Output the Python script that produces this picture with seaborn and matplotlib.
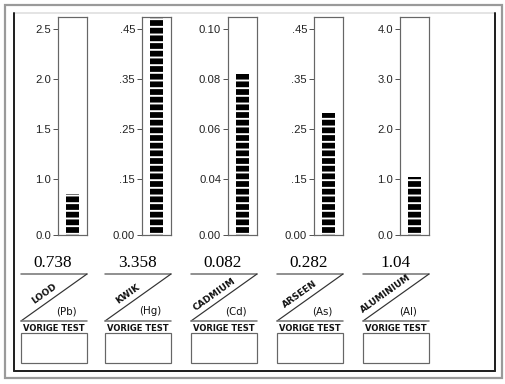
import numpy as np
import matplotlib
matplotlib.use("Agg")
import matplotlib.pyplot as plt
from matplotlib.lines import Line2D
from matplotlib.patches import Rectangle
import seaborn as sns

# Data

names = ["LOOD", "KWIK", "CADMIUM", "ARSEEN", "ALUMINIUM"]
symbols = ["(Pb)", "(Hg)", "(Cd)", "(As)", "(Al)"]
values = [0.738, 3.358, 0.082, 0.282, 1.04]
value_labels = ["0.738", "3.358", "0.082", "0.282", "1.04"]

tick_values = [
    [0.0, 1.0, 1.5, 2.0, 2.5],
    [0.0, 0.15, 0.25, 0.35, 0.45],
    [0.0, 0.04, 0.06, 0.08, 0.10],
    [0.0, 0.15, 0.25, 0.35, 0.45],
    [0.0, 1.0, 2.0, 3.0, 4.0],
]
tick_labels = [
    ["0.0", "1.0", "1.5", "2.0", "2.5"],
    ["0.00", ".15", ".25", ".35", ".45"],
    ["0.00", "0.04", "0.06", "0.08", "0.10"],
    ["0.00", ".15", ".25", ".35", ".45"],
    ["0.0", "1.0", "2.0", "3.0", "4.0"],
]

# Layout (pixels)

W, H = 505, 384
DPI = 92
box_left = [58, 142, 228, 314, 400]
box_w = 29
box_top, box_bot = 17, 235
tick_px = [0, 56, 106, 156, 206]   # gauge tick spacing (first step is longer)

sns.set_style("white")
plt.rcParams["font.family"] = ["Liberation Sans", "DejaVu Sans"]
plt.rcParams["hatch.linewidth"] = 1.5

fig = plt.figure(figsize=(5.4895, 4.1745), dpi=DPI)
px = 72 / DPI  # one pixel in points


def gauge_scale(ticks):
    t = np.array(ticks, dtype=float)
    p = np.array(tick_px, dtype=float)
    s_hi = (t[-1] - t[-2]) / (p[-1] - p[-2])
    s_lo = (t[1] - t[0]) / (p[1] - p[0])
    t = np.concatenate([[t[0] - s_lo * 1e4], t, [t[-1] + s_hi * 1e4]])
    p = np.concatenate([[p[0] - 1e4], p, [p[-1] + 1e4]])
    return (lambda v: np.interp(v, t, p)), (lambda q: np.interp(q, p, t))


# decoration layer in pixel coords
deco = fig.add_axes([0, 0, 1, 1], zorder=0)
deco.set_xlim(0, W)
deco.set_ylim(H, 0)
deco.axis("off")

deco.add_patch(Rectangle((5, 5), 497, 373, fill=False,
                         edgecolor="#9a9a9a", lw=2.2 * px))
deco.add_line(Line2D([14, 495], [13, 13], color="#dcdcdc", lw=1.5 * px))
deco.add_line(Line2D([14, 14], [13, 371], color="#222222", lw=2 * px))
deco.add_line(Line2D([495, 495], [13, 371], color="#222222", lw=2 * px))
deco.add_line(Line2D([14, 495], [371, 371], color="#222222", lw=2 * px))

for i in range(len(names)):
    bl = box_left[i]
    ax = fig.add_axes([bl / W, (H - box_bot) / H, box_w / W,
                       (box_bot - box_top) / H], zorder=1)

    sns.barplot(x=[names[i]], y=[values[i]], color="black", width=0.45,
                edgecolor="white", linewidth=0, hatch="--", ax=ax)

    fwd, inv = gauge_scale(tick_values[i])
    ax.set_yscale("function", functions=(fwd, inv))
    ax.set_ylim(0, float(inv(box_bot - box_top)))
    ax.set_xlim(-0.5, 0.5)
    ax.set_xticks([])
    ax.set_xlabel("")
    ax.set_ylabel("")
    ax.set_yticks(tick_values[i])
    ax.set_yticklabels(tick_labels[i])
    ax.yaxis.set_minor_locator(matplotlib.ticker.NullLocator())
    ax.tick_params(axis="y", left=True, length=5 * px, width=1 * px,
                   color="#555555", pad=1.5, labelsize=8.8,
                   labelcolor="#222222")
    for sp in ax.spines.values():
        sp.set_color("#666666")
        sp.set_linewidth(1.2 * px)

    # label block under the gauge
    br = bl + box_w
    x0 = br - 66
    deco.text(x0 + 32, 263, value_labels[i], ha="center", va="center",
              fontsize=13.5, family="Liberation Serif", color="black")
    deco.add_line(Line2D([x0, br], [274, 274], color="#777777", lw=1.6 * px))
    deco.add_line(Line2D([x0, br], [321, 274], color="#333333", lw=1.2 * px))
    deco.add_line(Line2D([x0, br], [321, 321], color="#777777", lw=1.6 * px))
    deco.text(x0 + 23, 294, names[i], ha="center", va="center",
              rotation=35.5, rotation_mode="anchor", fontsize=7.0,
              fontweight="bold", family="DejaVu Sans", color="#111111")
    deco.text(x0 + 45, 311, symbols[i], ha="center", va="center",
              fontsize=8, family="DejaVu Sans", color="#111111")
    deco.text(x0 + 33, 328.5, "VORIGE TEST", ha="center", va="center",
              fontsize=6.6, fontweight="bold", family="DejaVu Sans",
              color="#111111")
    deco.add_patch(Rectangle((x0, 333), 66, 30, fill=False,
                             edgecolor="#666666", lw=1.2 * px))

fig.savefig("out.png", dpi=DPI)
